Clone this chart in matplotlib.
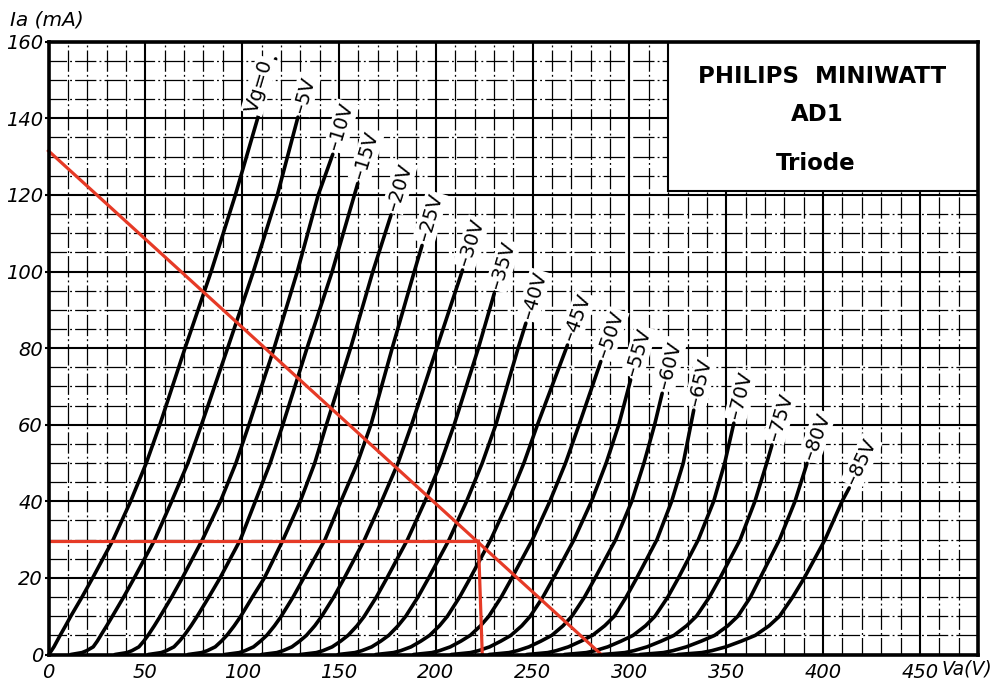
import matplotlib
matplotlib.use("Agg")
import math
import numpy as np
import matplotlib.pyplot as plt
from matplotlib.patches import Rectangle

# ---------------- data ----------------
grid_bias = [0, -5, -10, -15, -20, -25, -30, -35, -40, -45,
             -50, -55, -60, -65, -70, -75, -80, -85]
curve_labels = ["Vg=0", "–5V", "–10V", "–15V", "–20V", "–25V", "–30V", "–35V",
                "–40V", "–45V", "–50V", "–55V", "–60V", "–65V", "–70V",
                "–75V", "–80V", "–85V"]

va_g00 = [0, 0.8, 1.5, 2.8, 4.4, 6, 8.8, 11.5, 17.3, 22.8, 33.4, 42.4, 50.5, 57.5, 70.5, 84, 96.5, 108, 117.3]
ia_g00 = [0, 0.5, 1, 2, 3.5, 5, 7.5, 10, 15, 20, 30, 40, 50, 60, 80, 100, 120, 140, 155.5]
va_g05 = [11.5, 17.3, 19.7, 23.1, 25.2, 27.0, 30.05, 33.0, 38.8, 44.3, 54.9, 63.6, 72, 79, 92.5, 105.8, 118.2, 128.8]
ia_g05 = [0, 0.5, 1, 2, 3.5, 5, 7.5, 10, 15, 20, 30, 40, 50, 60, 80, 100, 120, 140.3]
va_g10 = [34.3, 40.5, 43.1, 46.7, 49.2, 51.4, 54.65, 57.7, 63.6, 69.1, 79.5, 88.8, 96.8, 103.5, 116.5, 128.5, 139.3, 146.8]
ia_g10 = [0, 0.5, 1, 2, 3.5, 5, 7.5, 10, 15, 20, 30, 40, 50, 60, 80, 100, 120, 130.6]
va_g15 = [51.5, 58.2, 60.9, 64.8, 67.6, 70.1, 73.6, 76.8, 82.8, 88.6, 99.1, 106.8, 114.5, 121, 133.5, 146.5, 159.7]
ia_g15 = [0, 0.5, 1, 2, 3.5, 5, 7.5, 10, 15, 20, 30, 40, 50, 60, 80, 100, 123]
va_g20 = [72, 79.1, 82, 86.1, 89.3, 92.1, 95.9, 99.3, 105.3, 111.5, 121.2, 130, 137.5, 143.5, 156, 167.5, 176.9]
ia_g20 = [0, 0.5, 1, 2, 3.5, 5, 7.5, 10, 15, 20, 30, 40, 50, 60, 80, 100, 114.8]
va_g25 = [91, 98.5, 101.5, 105.9, 109.5, 112.7, 116.7, 120.2, 126.3, 131.8, 142.8, 151, 159.5, 166.5, 177.5, 188.9, 192.9]
ia_g25 = [0, 0.5, 1, 2, 3.5, 5, 7.5, 10, 15, 20, 30, 40, 50, 60, 80, 100, 106.8]
va_g30 = [110, 117.9, 121.1, 125.7, 129.7, 133.2, 137.5, 141.1, 147.3, 152.8, 163.2, 172, 180.5, 187.5, 200.5, 213.8]
ia_g30 = [0, 0.5, 1, 2, 3.5, 5, 7.5, 10, 15, 20, 30, 40, 50, 60, 80, 100.4]
va_g35 = [130, 138.3, 141.7, 146.5, 150.9, 154.7, 159.3, 163.1, 169.3, 174.8, 185.4, 194.4, 202.5, 209.5, 222, 230.2]
ia_g35 = [0, 0.5, 1, 2, 3.5, 5, 7.5, 10, 15, 20, 30, 40, 50, 60, 80, 94.3]
va_g40 = [149.5, 158.2, 161.8, 166.9, 171.6, 175.7, 180.5, 184.5, 190.8, 196.3, 206.9, 215.9, 224, 231, 242.5, 246.5]
ia_g40 = [0, 0.5, 1, 2, 3.5, 5, 7.5, 10, 15, 20, 30, 40, 50, 60, 80, 86.5]
va_g45 = [169, 178.1, 181.9, 187.2, 192.3, 196.8, 201.9, 206, 212.3, 217.8, 228.4, 237.4, 245.5, 252.5, 268]
ia_g45 = [0, 0.5, 1, 2, 3.5, 5, 7.5, 10, 15, 20, 30, 40, 50, 60, 80.8]
va_g50 = [188.5, 198, 201.9, 207.5, 213, 217.8, 223.1, 227.4, 233.8, 239.3, 249.9, 258.9, 267, 274, 285.2]
ia_g50 = [0, 0.5, 1, 2, 3.5, 5, 7.5, 10, 15, 20, 30, 40, 50, 60, 76.5]
va_g55 = [208, 217.9, 222, 227.8, 233.6, 238.8, 244.4, 248.8, 255.3, 260.8, 271.4, 280.4, 288, 294.5, 300.6]
ia_g55 = [0, 0.5, 1, 2, 3.5, 5, 7.5, 10, 15, 20, 30, 40, 50, 60, 71.7]
va_g60 = [227.5, 237.8, 242.1, 248.1, 254.3, 259.9, 265.7, 270.3, 276.8, 282.3, 292.9, 301.2, 307.5, 313, 316.9]
ia_g60 = [0, 0.5, 1, 2, 3.5, 5, 7.5, 10, 15, 20, 30, 40, 50, 60, 68.2]
va_g65 = [247, 257.8, 262.2, 268.5, 275, 280.9, 287.2, 292.2, 298.3, 303.8, 314.2, 321.8, 327.8, 333.2]
ia_g65 = [0, 0.5, 1, 2, 3.5, 5, 7.5, 10, 15, 20, 30, 40, 50, 63.8]
va_g70 = [266.5, 277.7, 282.3, 288.8, 295.7, 301.9, 308.3, 313.2, 319.8, 325.3, 335.6, 343.5, 349.2, 353.9]
ia_g70 = [0, 0.5, 1, 2, 3.5, 5, 7.5, 10, 15, 20, 30, 40, 50, 60.4]
va_g75 = [286, 297.6, 302.3, 309.1, 316.4, 323, 329.5, 334.6, 341.3, 346.8, 357.2, 364.8, 370.9, 373.6]
ia_g75 = [0, 0.5, 1, 2, 3.5, 5, 7.5, 10, 15, 20, 30, 40, 50, 54.7]
va_g80 = [305.5, 317.5, 322.4, 329.4, 337.1, 344, 350.8, 356, 362.5, 367.5, 377.5, 385.5, 391.7]
ia_g80 = [0, 0.5, 1, 2, 3.5, 5, 7.5, 10, 15, 20, 30, 40, 49.9]
va_g85 = [325, 337.4, 342.5, 349.8, 357.8, 365, 372.1, 377.5, 384.3, 390.3, 401, 409.8, 413.5]
ia_g85 = [0, 0.5, 1, 2, 3.5, 5, 7.5, 10, 15, 20, 30, 40, 43.5]

curves_va = [va_g00, va_g05, va_g10, va_g15, va_g20, va_g25, va_g30, va_g35, va_g40,
             va_g45, va_g50, va_g55, va_g60, va_g65, va_g70, va_g75, va_g80, va_g85]
curves_ia = [ia_g00, ia_g05, ia_g10, ia_g15, ia_g20, ia_g25, ia_g30, ia_g35, ia_g40,
             ia_g45, ia_g50, ia_g55, ia_g60, ia_g65, ia_g70, ia_g75, ia_g80, ia_g85]

load_line_va = [0, 285.5]
load_line_ia = [131.5, 0]
op_va = 222.0
op_ia = 29.6
op_foot_va = 224.0

x_ticks = [0, 50, 100, 150, 200, 250, 300, 350, 400, 450]
y_ticks = [0, 20, 40, 60, 80, 100, 120, 140, 160]

title_lines = ["PHILIPS  MINIWATT", "AD1", "Triode"]

# ---------------- drawing ----------------
FONT = ["DejaVu Sans"]
RED = "#e63a26"

fig = plt.figure(figsize=(10, 6.85), dpi=100)
ax = fig.add_axes([0.0485, 0.0445, 0.9295, 0.8946])
ax.set_xlim(0, 480)
ax.set_ylim(0, 160)

ax.set_xticks(x_ticks)
ax.set_yticks(y_ticks)
ax.set_xticks(np.arange(0, 481, 10), minor=True)
ax.set_yticks(np.arange(0, 161, 5), minor=True)
ax.set_axisbelow(True)
ax.grid(which="major", color="black", lw=1.5)
ax.grid(which="minor", color="black", lw=0.9, ls=(3, (17, 2.5, 1.5, 2.5)))

ax.tick_params(axis="x", which="both", length=0, pad=6)
ax.tick_params(axis="y", which="major", length=3, width=1.5, pad=1)
ax.tick_params(axis="y", which="minor", length=0)
for lab in ax.get_xticklabels() + ax.get_yticklabels():
    lab.set_family(FONT)
    lab.set_style("italic")
    lab.set_size(14)

for sp in ax.spines.values():
    sp.set_linewidth(2.6)
    sp.set_zorder(6)

# title box
ax.add_patch(Rectangle((320, 121), 160, 39, facecolor="white",
                       edgecolor="black", lw=1.5, zorder=2.5))
ax.text(399.4, 150.8, title_lines[0], ha="center", va="center",
        fontsize=16.5, fontweight="bold", family=FONT, zorder=5)
ax.text(396.8, 140.9, title_lines[1], ha="center", va="center",
        fontsize=16.5, fontweight="bold", family=FONT, zorder=5)
ax.text(396.0, 128.1, title_lines[2], ha="center", va="center",
        fontsize=16.5, fontweight="bold", family=FONT, zorder=5)

# curves
for va, ia in zip(curves_va, curves_ia):
    ax.plot(va, ia, color="black", lw=2.6, solid_capstyle="round",
            solid_joinstyle="round", zorder=3)

# curve labels
for i, (va, ia, lab) in enumerate(zip(curves_va, curves_ia, curve_labels)):
    p2 = ax.transData.transform((va[-1], ia[-1]))
    p1 = ax.transData.transform((va[-3], ia[-3]))
    ang = math.degrees(math.atan2(p2[1] - p1[1], p2[0] - p1[0]))
    ux, uy = math.cos(math.radians(ang)), math.sin(math.radians(ang))
    if i == 0:
        ax.annotate(lab, xy=(va[-1], ia[-1]), xytext=(-3 * ux - 8 * uy, -3 * uy + 8 * ux),
                    textcoords="offset pixels", rotation=ang, rotation_mode="anchor",
                    ha="right", va="center", fontsize=14, family=FONT, zorder=5,
                    bbox=dict(boxstyle="square,pad=0.1", fc="white", ec="none"))
    else:
        ax.annotate(lab, xy=(va[-1], ia[-1]), xytext=(5 * ux, 5 * uy),
                    textcoords="offset pixels", rotation=ang, rotation_mode="anchor",
                    ha="left", va="center", fontsize=14, family=FONT, zorder=5,
                    bbox=dict(boxstyle="square,pad=0.1", fc="white", ec="none"))

# load line and operating point
ax.plot(load_line_va, load_line_ia, color=RED, lw=2.3, zorder=4, clip_on=False)
ax.plot([0, op_va], [op_ia, op_ia], color=RED, lw=2.3, zorder=4)
ax.plot([op_va, op_foot_va], [op_ia, 0], color=RED, lw=2.3, zorder=4)

# axis titles
fig.text(0.010, 1 - 20 / 685, "Ia (mA)", ha="left", va="center",
         fontsize=14.5, style="italic", family=FONT)
fig.text(0.942, 1 - 669 / 685, "Va(V)", ha="left", va="center",
         fontsize=13.5, style="italic", family=FONT)

fig.savefig("out.png", dpi=100, facecolor="white")
